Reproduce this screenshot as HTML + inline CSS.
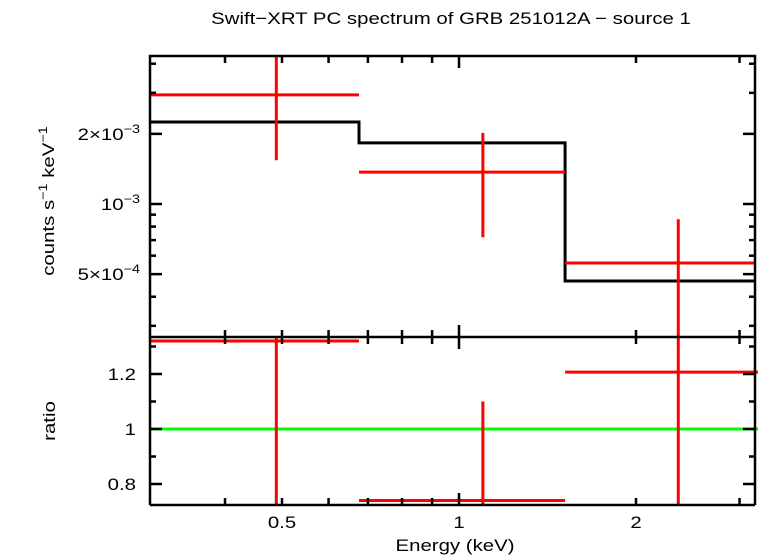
<!DOCTYPE html>
<html><head><meta charset="utf-8"><style>
body{margin:0;background:#fff}
svg{display:block}
text{font-family:"Liberation Sans",sans-serif;fill:#000}
</style></head><body>
<svg id="c" width="758" height="556"></svg>
<script>
const binLo=[0.28,0.676,1.515];
const binHi=[0.676,1.515,3.6];
const dataE=[0.489,1.098,2.36];
const dataY=[2.94e-3,1.37e-3,5.58e-4];
const dataYLo=[1.54e-3,7.2e-4,2.0e-4];
const dataYHi=[5e-3,2.02e-3,8.6e-4];
const modelY=[2.25e-3,1.83e-3,4.67e-4];
const ratio=[1.32,0.74,1.207];
const ratioLo=[0.72,0.72,0.70];
const ratioHi=[1.4,1.10,1.4];
const xTicks=[0.4,0.5,0.6,0.7,0.8,0.9,1,2,3];
const xLabels=[0.5,1,2];
const yMinor=[3e-4,4e-4,5e-4,6e-4,7e-4,8e-4,9e-4,1e-3,2e-3,3e-3,4e-3];
const rTicks=[0.8,0.9,1,1.1,1.2,1.3];

const L=150,R=755,T1=56,B1=337,B2=505;
const xs=e=>459+588*Math.log10(e);
const ys=v=>204-233*Math.log10(v/1e-3);
const rs=r=>429-275*(r-1);
const svg=document.getElementById('c');
const NS='http://www.w3.org/2000/svg';
function el(t,a,p){const e=document.createElementNS(NS,t);for(const k in a)e.setAttribute(k,a[k]);(p||svg).appendChild(e);return e;}
const cl1=el('clipPath',{id:'c1'});el('rect',{x:L,y:T1,width:R-L,height:B1-T1},cl1);
const cl2=el('clipPath',{id:'c2'});el('rect',{x:L,y:B1,width:R-L+3,height:B2-B1},cl2);
const g1=el('g',{'clip-path':'url(#c1)'});


const g2=el('g',{'clip-path':'url(#c2)'});


let d='';
for(let i=0;i<modelY.length;i++){d+=(i?'L':'M')+xs(binLo[i])+','+ys(modelY[i])+'L'+xs(binHi[i])+','+ys(modelY[i]);}
const m=el('path',{d:d,fill:'none',stroke:'#000','stroke-width':3},g1);


const gl=el('line',{x1:L,x2:R+3,y1:rs(1),y2:rs(1),stroke:'#0f0','stroke-width':3},g2);


for(let i=0;i<dataE.length;i++){
 const a=el('g',{stroke:'#f00','stroke-width':3},g1);
 
 
 el('line',{x1:xs(binLo[i]),x2:xs(binHi[i]),y1:ys(dataY[i]),y2:ys(dataY[i])},a);
 el('line',{x1:xs(dataE[i]),x2:xs(dataE[i]),y1:ys(dataYLo[i]),y2:ys(dataYHi[i])},a);
 const b=el('g',{stroke:'#f00','stroke-width':3},g2);
 
 
 el('line',{x1:xs(binLo[i]),x2:xs(binHi[i]),y1:rs(ratio[i]),y2:rs(ratio[i])},b);
 el('line',{x1:xs(dataE[i]),x2:xs(dataE[i]),y1:rs(ratioLo[i]),y2:rs(ratioHi[i])},b);
}
const f=el('g',{stroke:'#000','stroke-width':2.5,fill:'none'});


el('rect',{x:L,y:T1,width:R-L,height:B1-T1},f);
el('line',{x1:L,x2:R,y1:B2,y2:B2},f);
el('line',{x1:L,x2:L,y1:B1,y2:B2},f);
el('line',{x1:R,x2:R,y1:B1,y2:B2},f);
xTicks.forEach(t=>{const x=xs(t),maj=(t==1),l=maj?12:7;
 [[T1,1],[B1,-1],[B1,1],[B2,-1]].forEach(([y,s])=>el('line',{x1:x,x2:x,y1:y,y2:y+s*l},f));});
yMinor.forEach(v=>{const y=ys(v),maj=[5e-4,1e-3,2e-3].includes(v),l=maj?12:6;
 el('line',{x1:L,x2:L+l,y1:y,y2:y},f);el('line',{x1:R,x2:R-l,y1:y,y2:y},f);});
rTicks.forEach(v=>{const y=rs(v),maj=[0.8,1,1.2].includes(v),l=maj?12:6;
 el('line',{x1:L,x2:L+l,y1:y,y2:y},f);el('line',{x1:R,x2:R-l,y1:y,y2:y},f);});
function txt(s,x,y,anchor,name){const t=el('text',{x:0,y:0,'font-size':17,'text-anchor':anchor,transform:`translate(${x},${y}) scale(1.2,1)`});t.textContent=s;
 
 return t;}
xLabels.forEach(t=>txt(String(t),xs(t),528,'middle','x-tick-label'));
[['1.2',1.2],['1',1],['0.8',0.8]].forEach(([s,v])=>txt(s,136,rs(v)+6,'end','ratio-tick-label'));
txt('Swift−XRT PC spectrum of GRB 251012A − source 1',451,24,'middle','chart-title');
txt('Energy (keV)',455,551,'middle','x-axis-title');
txt('ratio',55,421,'middle','ratio-axis-title').setAttribute('transform','translate(55,421) rotate(-90) scale(1.2,1)');
function sup(x,y,main,exp,name){const t=el('text',{x:0,y:0,'font-size':17,'text-anchor':'end',transform:`translate(${x},${y}) scale(1.2,1)`});
 
 
 const a=el('tspan',{},t);a.textContent=main;const b=el('tspan',{dy:-7,'font-size':12},t);b.textContent=exp;return t;}
sup(140,ys(2e-3)+6,'2×10','−3','y-tick-2e-3');
sup(140,ys(1e-3)+6,'10','−3','y-tick-1e-3');
sup(140,ys(5e-4)+6,'5×10','−4','y-tick-5e-4');
const yt=el('text',{x:0,y:0,'font-size':17,'text-anchor':'middle',transform:'translate(54,201) rotate(-90) scale(1.2,1)'});


[['counts s',0],['−1',-7],[' keV',7],['−1',-7]].forEach(([s,dy],i)=>{const sp=el('tspan',{dy:dy,'font-size':(i%2?12:17)},yt);sp.textContent=s;});
</script>
</body></html>
